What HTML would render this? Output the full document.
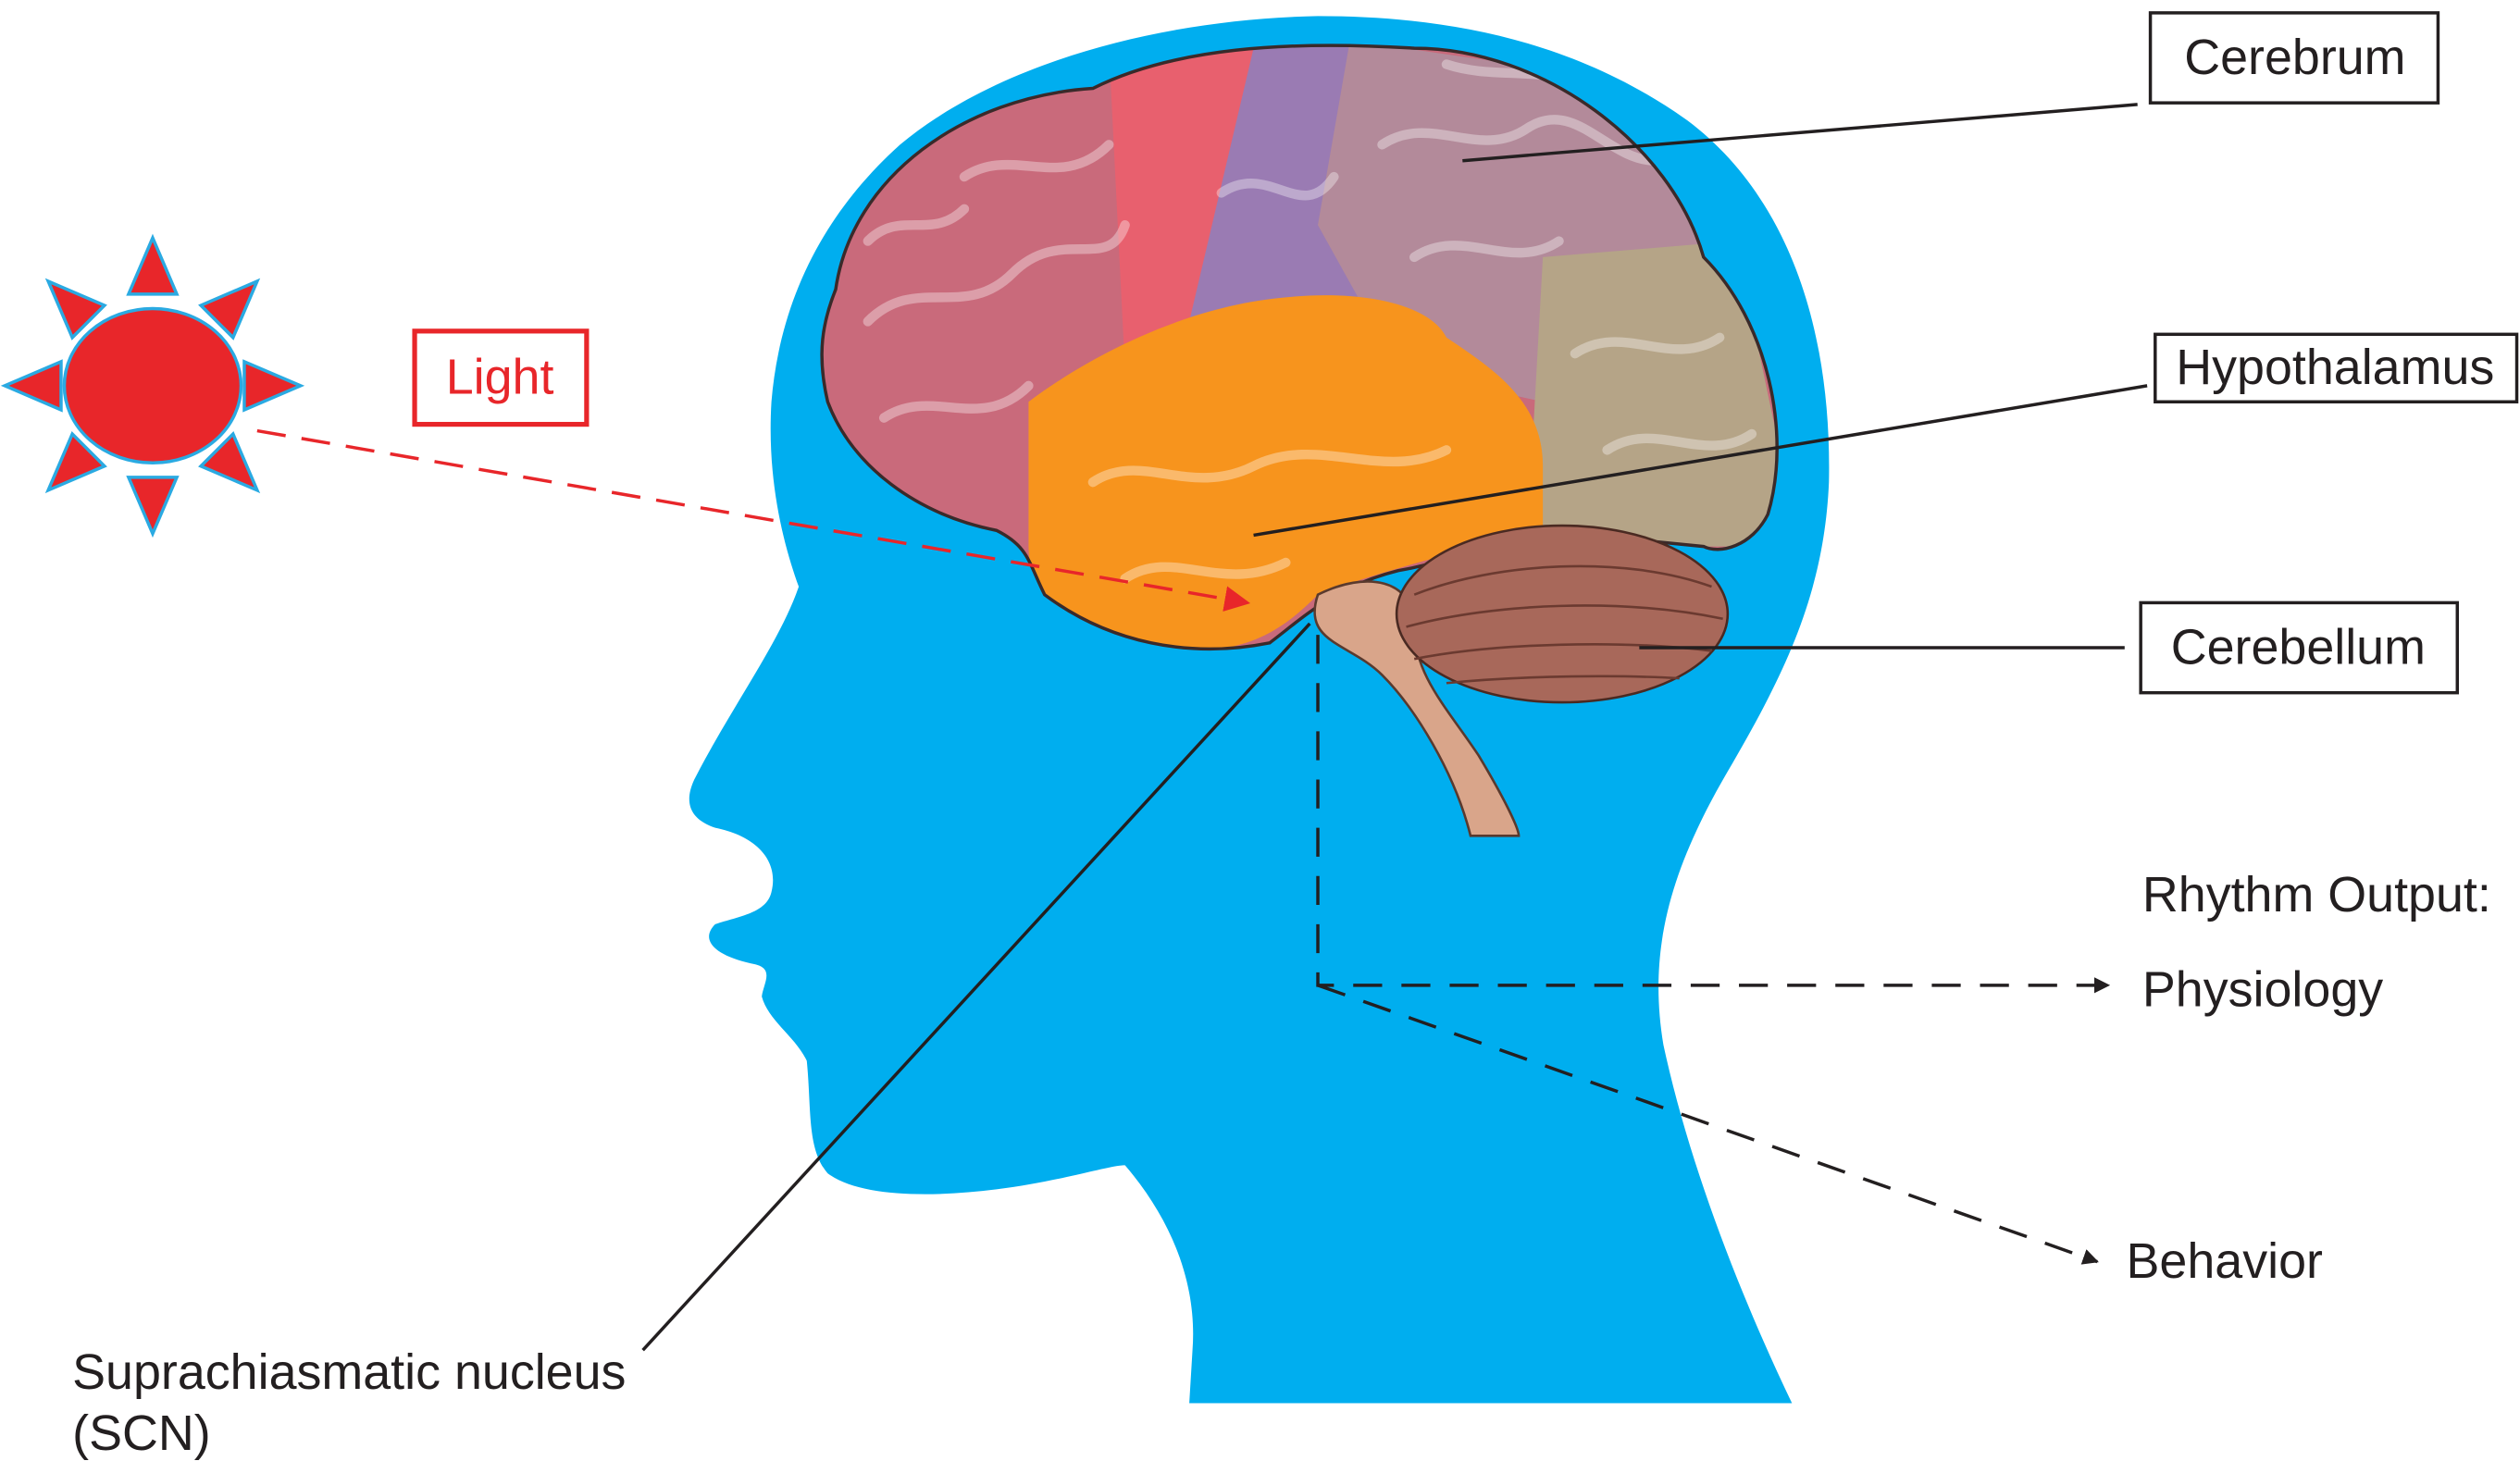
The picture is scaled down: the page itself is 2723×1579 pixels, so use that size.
<!DOCTYPE html>
<html><head><meta charset="utf-8"><style>
html,body{margin:0;padding:0;background:#fff;}
svg{display:block;}
text{font-family:"Liberation Sans",sans-serif;}
</style></head><body>
<svg width="2723" height="1579" viewBox="0 0 1568 909" preserveAspectRatio="none" xmlns="http://www.w3.org/2000/svg">
<defs>
<marker id="ab" markerWidth="10" markerHeight="10" refX="9" refY="5" orient="auto" markerUnits="userSpaceOnUse"><path d="M0,0 L10,5 L0,10 Z" fill="#231f20"/></marker>
<marker id="ar" markerWidth="16" markerHeight="16" refX="14" refY="8" orient="auto" markerUnits="userSpaceOnUse"><path d="M0,0 L16,8 L0,16 Z" fill="#e8262a"/></marker>
<path id="bp" d="M520,180 C530,110 600,60 680,55 C730,30 800,25 880,30 C960,30 1040,90 1060,160 C1100,200 1115,270 1100,320 C1090,340 1070,345 1060,340 L960,330 C920,340 900,350 870,355 C830,365 810,385 790,400 C740,410 690,400 650,370 C640,350 640,340 620,330 C570,320 530,290 515,250 C508,220 512,200 520,180 Z"/>
<clipPath id="bc"><use href="#bp"/></clipPath>
</defs>
<rect width="1568" height="909" fill="#fff"/>
<path fill="#00aeef" d="M740,873 L1115,873 C1080,800 1050,720 1035,650 C1025,590 1040,540 1075,480 C1110,420 1135,370 1138,300 C1140,200 1110,120 1050,75 C980,25 900,10 820,10 C720,12 620,40 560,90 C510,135 485,190 480,250 C477,300 488,340 497,365 C485,400 455,440 432,485 C425,500 430,510 445,515 C470,520 485,535 480,555 C477,568 460,570 445,575 C435,585 445,595 470,600 C482,603 475,612 474,620 C478,635 495,645 502,660 C505,690 502,715 515,730 C535,745 580,745 620,740 C660,735 690,725 700,725 C730,760 745,800 742,840 Z"/>
<g clip-path="url(#bc)">
<rect x="500" y="20" width="620" height="400" fill="#c96a7b"/>
<path d="M690,30 L800,30 L790,200 L700,230 Z" fill="#e8606e"/>
<path d="M780,30 L880,25 L850,200 L740,200 Z" fill="#9a7bb3"/>
<path d="M840,25 L1080,60 L1070,170 L960,250 L870,230 L820,140 Z" fill="#b38a9a"/>
<path d="M960,160 L1080,150 L1120,340 L950,340 Z" fill="#b5a487"/>
<path d="M640,250 C680,220 740,190 800,185 C850,180 890,190 900,210 C930,230 960,250 960,290 L960,330 C900,345 860,355 820,370 C800,390 780,405 740,405 C680,405 640,380 640,340 Z" fill="#f7941d"/>
<g fill="none" stroke="#fff" stroke-opacity="0.35" stroke-width="6" stroke-linecap="round">
<path d="M540,200 C570,170 600,200 630,170 C660,140 690,170 700,140"/>
<path d="M550,260 C580,240 610,270 640,240"/>
<path d="M600,110 C630,90 660,120 690,90"/>
<path d="M860,90 C890,70 920,100 950,80 C980,60 1000,100 1030,100"/>
<path d="M880,160 C910,140 940,170 970,150"/>
<path d="M680,300 C710,280 740,310 780,290 C820,270 860,300 900,280"/>
<path d="M700,360 C730,340 760,370 800,350"/>
<path d="M980,220 C1010,200 1040,230 1070,210"/>
<path d="M760,120 C790,100 810,140 830,110"/>
<path d="M540,150 C560,130 580,150 600,130"/>
<path d="M1000,280 C1030,260 1060,290 1090,270"/>
<path d="M900,40 C930,50 960,40 990,55"/>
</g>
</g>
<use href="#bp" fill="none" stroke="#3a2a2a" stroke-width="2"/>
<path d="M820,370 C850,355 880,360 880,390 C880,420 900,440 920,470 C935,495 945,515 945,520 L915,520 C905,480 880,440 860,420 C840,400 810,400 820,370 Z" fill="#d9a58a" stroke="#5a3a2e" stroke-width="1.5"/>
<ellipse cx="972" cy="382" rx="103" ry="55" fill="#a8685a" stroke="#4a2a22" stroke-width="1.5"/>
<g fill="none" stroke="#6b3a30" stroke-width="1.5">
<path d="M880,370 C930,350 1010,345 1065,365"/><path d="M875,390 C930,375 1010,372 1072,385"/><path d="M880,410 C930,400 1010,398 1065,405"/><path d="M900,425 C950,420 1010,420 1045,422"/>
</g>
<g stroke="#231f20" stroke-width="2" fill="none">
<line x1="1330" y1="65" x2="910" y2="100"/>
<line x1="1336" y1="240" x2="780" y2="333"/>
<line x1="1322" y1="403" x2="1020" y2="403"/>
<line x1="400" y1="840" x2="815" y2="388"/>
<polyline points="820,395 820,613 1312,613" stroke-dasharray="18,12" marker-end="url(#ab)"/>
<line x1="820" y1="613" x2="1305" y2="785" stroke-dasharray="18,12" marker-end="url(#ab)"/>
</g>
<line x1="160" y1="268" x2="776" y2="375" stroke="#e8262a" stroke-width="2" stroke-dasharray="18,10" marker-end="url(#ar)"/>
<g fill="#e8262a" stroke="#2aaae2" stroke-width="2">
<polygon points="95,148 110,183 80,183"/>
<polygon points="95,332 110,297 80,297"/>
<polygon points="3,240 38,225 38,255"/>
<polygon points="187,240 152,225 152,255"/>
<polygon points="30,175 65,190 45,210"/>
<polygon points="160,175 125,190 145,210"/>
<polygon points="30,305 65,290 45,270"/>
<polygon points="160,305 125,290 145,270"/>
<ellipse cx="95" cy="240" rx="55" ry="48"/>
</g>
<g fill="#fff" stroke="#231f20" stroke-width="2">
<rect x="1338" y="8" width="179" height="56"/>
<rect x="1341" y="208" width="225" height="42"/>
<rect x="1332" y="375" width="197" height="56"/>
</g>
<rect x="258" y="206" width="107" height="58" fill="#fff" stroke="#e8262a" stroke-width="3"/>
<g font-size="31" fill="#231f20">
<text x="1428" y="46" text-anchor="middle">Cerebrum</text>
<text x="1453" y="239" text-anchor="middle">Hypothalamus</text>
<text x="1430" y="413" text-anchor="middle">Cerebellum</text>
<text x="1333" y="567">Rhythm Output:</text>
<text x="1333" y="626">Physiology</text>
<text x="1323" y="795">Behavior</text>
<text x="45" y="864">Suprachiasmatic nucleus</text>
<text x="45" y="902">(SCN)</text>
</g>
<text x="311" y="245" font-size="31" fill="#e8262a" text-anchor="middle">Light</text>
</svg>
</body></html>
